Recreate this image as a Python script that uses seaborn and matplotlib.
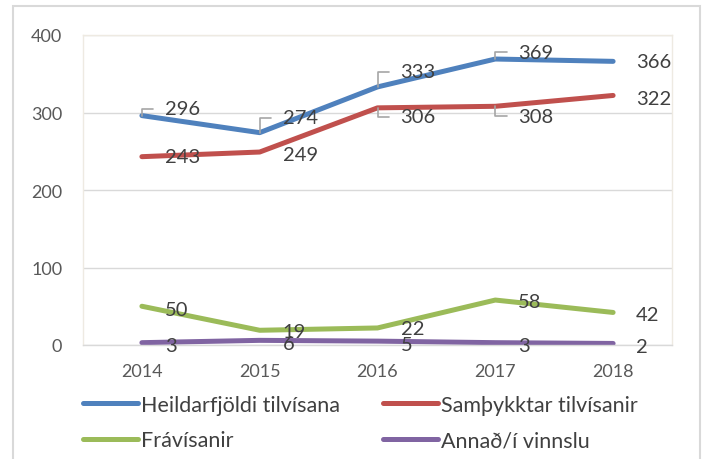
import pandas as pd
import matplotlib.pyplot as plt
from matplotlib.patches import Rectangle
import seaborn as sns

# Gögn lesin af myndinni
years = [2014, 2015, 2016, 2017, 2018]
heildar = [296, 274, 333, 369, 366]
samthykktar = [243, 249, 306, 308, 322]
fravisanir = [50, 19, 22, 58, 42]
annad = [3, 6, 5, 3, 2]

series_names = ['Heildarfjöldi tilvísana', 'Samþykktar tilvísanir',
                'Frávísanir', 'Annað/í vinnslu']
colors = ['#4F81BD', '#C0504D', '#9BBB59', '#8064A2']

sns.set_theme(style="white")
plt.rcParams['font.family'] = ['Lato', 'DejaVu Sans']

df = pd.DataFrame({
    'year': years * 4,
    'value': heildar + samthykktar + fravisanir + annad,
    'series': [n for n in series_names for _ in years],
})

fig = plt.figure(figsize=(7.04, 4.6), dpi=100)
ax = fig.add_axes([83 / 704, 1 - 346 / 460, 589 / 704, 310 / 460])

sns.lineplot(data=df, x='year', y='value', hue='series', hue_order=series_names,
             palette=colors, linewidth=3.6, ax=ax, legend=True,
             solid_capstyle='round')

ax.set_xlim(2013.5, 2018.5)
ax.set_ylim(0, 400)
ax.set_xticks(years)
ax.set_yticks([0, 100, 200, 300, 400])
ax.set_xlabel('')
ax.set_ylabel('')
ax.grid(axis='y', color='#D9D9D9', linewidth=1)
ax.set_axisbelow(True)
ax.tick_params(axis='both', length=0, labelsize=13, labelcolor='#595959')
ax.tick_params(axis='y', pad=15)
ax.tick_params(axis='x', pad=13)
for side in ['top', 'left', 'right']:
    ax.spines[side].set_color('#EEEAE2')
    ax.spines[side].set_linewidth(1)
ax.spines['bottom'].set_color('#D9D9D9')
ax.spines['bottom'].set_linewidth(1)

# gagnamerki: lóðrétt hliðrun (px) og hvort leiðarlína er teiknuð
label_dy = {
    0: [7, 15, 15, 7, 0],
    1: [0, -2, -9, -10, -3],
    2: [-3, -1, -1, -1, -2],
    3: [-3, -3, -3, -3, -3],
}
leaders = {(0, 0), (0, 1), (0, 2), (0, 3), (1, 2), (1, 3)}
all_vals = [heildar, samthykktar, fravisanir, annad]
for si, vals in enumerate(all_vals):
    for xi, (yr, v) in enumerate(zip(years, vals)):
        arrow = None
        if (si, xi) in leaders:
            arrow = dict(arrowstyle='-', color='#A6A6A6', lw=1.2, relpos=(0, 0.5),
                         shrinkA=6, shrinkB=0,
                         connectionstyle='angle,angleA=0,angleB=90,rad=0')
        ax.annotate(str(v), xy=(yr, v), xytext=(23, label_dy[si][xi]),
                    textcoords='offset pixels', ha='left', va='center',
                    fontsize=14.5, color='#404040', arrowprops=arrow)

handles, labels = ax.get_legend_handles_labels()
ax.get_legend().remove()
for h in handles:
    h.set_linewidth(3.6)
    h.set_solid_capstyle('round')
# röð eftir línum: matplotlib fyllir dálka fyrst
order = [0, 2, 1, 3]
fig.legend([handles[i] for i in order], [labels[i] for i in order],
           ncol=2, loc='upper left',
           bbox_to_anchor=(83 / 704, 1 - 396 / 460), frameon=False,
           fontsize=15.5, labelcolor='#404040', handlelength=2.55,
           handletextpad=0.15, columnspacing=2.0, labelspacing=0.7,
           borderpad=0, borderaxespad=0)

# rammi utan um myndina
fig.patches.append(Rectangle((13 / 704, -0.02), 687 / 704, 1.02 - 7 / 460,
                             transform=fig.transFigure, fill=False,
                             edgecolor='#D9D9D9', linewidth=1.5))

fig.savefig('out.png', dpi=100)
